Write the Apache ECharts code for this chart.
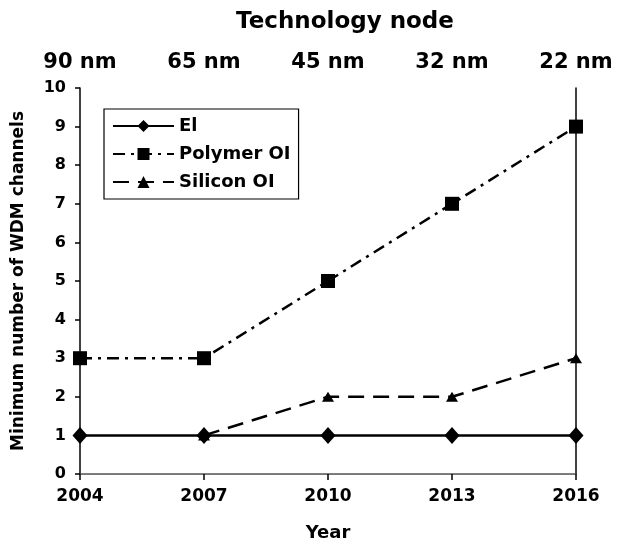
<!DOCTYPE html>
<html>
<head>
<meta charset="utf-8">
<script src="https://cdn.jsdelivr.net/npm/echarts@6/dist/echarts.min.js"></script>
<style>
  html, body { margin: 0; padding: 0; background: #fff; }
  #main { width: 618px; height: 547px; }
</style>
</head>
<body>
<div id="main"></div>
<script>
// data
var years = ["2004", "2007", "2010", "2013", "2016"];
var nodes = ["90 nm", "65 nm", "45 nm", "32 nm", "22 nm"];
var elValues = [1, 1, 1, 1, 1];
var polymerValues = [3, 3, 5, 7, 9];
var siliconValues = [null, 1, 2, 2, 3];

var font = "DejaVu Sans, Arial, sans-serif";

var myChart = echarts.init(document.getElementById("main"));

var option = {
  backgroundColor: "#fff",
  animation: false,
  title: {
    text: "Technology node",
    left: 340,
    top: 6,
    textAlign: "center",
    textStyle: { fontFamily: font, fontSize: 23, fontWeight: "bold", color: "#000" }
  },
  grid: { left: 80, right: 42, top: 88, bottom: 66 },
  legend: {
    orient: "vertical",
    left: 104,
    top: 109,
    itemWidth: 61,
    itemHeight: 15,
    itemGap: 10,
    padding: [8, 8, 8, 8],
    borderColor: "#000",
    borderWidth: 1.2,
    textStyle: { fontFamily: font, fontSize: 18, fontWeight: "bold", color: "#000" },
    data: ["El", "Polymer OI", "Silicon OI"]
  },
  xAxis: [
    {
      type: "category",
      data: years,
      boundaryGap: false,
      position: "bottom",
      name: "Year",
      nameLocation: "middle",
      nameGap: 50,
      nameTextStyle: { fontFamily: font, fontSize: 18, fontWeight: "bold", color: "#000" },
      axisLine: { lineStyle: { color: "#555", width: 1.5 } },
      axisTick: { show: true, length: 5, lineStyle: { color: "#000", width: 1.5 } },
      axisLabel: { fontFamily: font, fontSize: 17, fontWeight: "bold", color: "#000", margin: 14 },
      splitLine: { show: false }
    },
    {
      type: "category",
      data: nodes,
      boundaryGap: false,
      position: "top",
      axisLine: { lineStyle: { color: "#777", width: 1.2 } },
      axisTick: { show: true, inside: true, length: 6, lineStyle: { color: "#000", width: 1.5 } },
      axisLabel: { fontFamily: font, fontSize: 21, fontWeight: "bold", color: "#000", margin: 15 },
      splitLine: { show: false }
    }
  ],
  yAxis: [
    {
      type: "value",
      min: 0,
      max: 10,
      interval: 1,
      name: "Minimum number of WDM channels",
      nameLocation: "middle",
      nameGap: 53,
      nameTextStyle: { fontFamily: font, fontSize: 17, fontWeight: "bold", color: "#000" },
      axisLine: { show: true, lineStyle: { color: "#000", width: 1.5 } },
      axisTick: { show: true, length: 5, lineStyle: { color: "#000", width: 1.5 } },
      axisLabel: { fontFamily: font, fontSize: 16, fontWeight: "bold", color: "#000", margin: 14 },
      splitLine: { show: false }
    },
    {
      type: "value",
      min: 0,
      max: 10,
      interval: 1,
      position: "right",
      axisLine: { show: true, lineStyle: { color: "#000", width: 1.5 } },
      axisTick: { show: false },
      axisLabel: { show: false },
      splitLine: { show: false }
    }
  ],
  series: [
    {
      name: "El",
      type: "line",
      data: elValues,
      symbol: "diamond",
      symbolSize: [15, 17],
      color: "#000",
      lineStyle: { color: "#000", width: 2.5, type: "solid" },
      itemStyle: { color: "#000", borderColor: "#000", borderWidth: 0 },
      z: 3
    },
    {
      name: "Polymer OI",
      type: "line",
      data: polymerValues,
      symbol: "rect",
      symbolSize: 14,
      color: "#000",
      lineStyle: { color: "#000", width: 2.5, type: [12, 6, 3, 6] },
      itemStyle: { color: "#000", borderColor: "#000", borderWidth: 0 }
    },
    {
      name: "Silicon OI",
      type: "line",
      data: siliconValues,
      symbol: "triangle",
      symbolSize: [12, 10],
      color: "#000",
      lineStyle: { color: "#000", width: 2.5, type: [16, 9] },
      itemStyle: { color: "#000", borderColor: "#000", borderWidth: 0 }
    }
  ]
};

myChart.setOption(option);
</script>
</body>
</html>
